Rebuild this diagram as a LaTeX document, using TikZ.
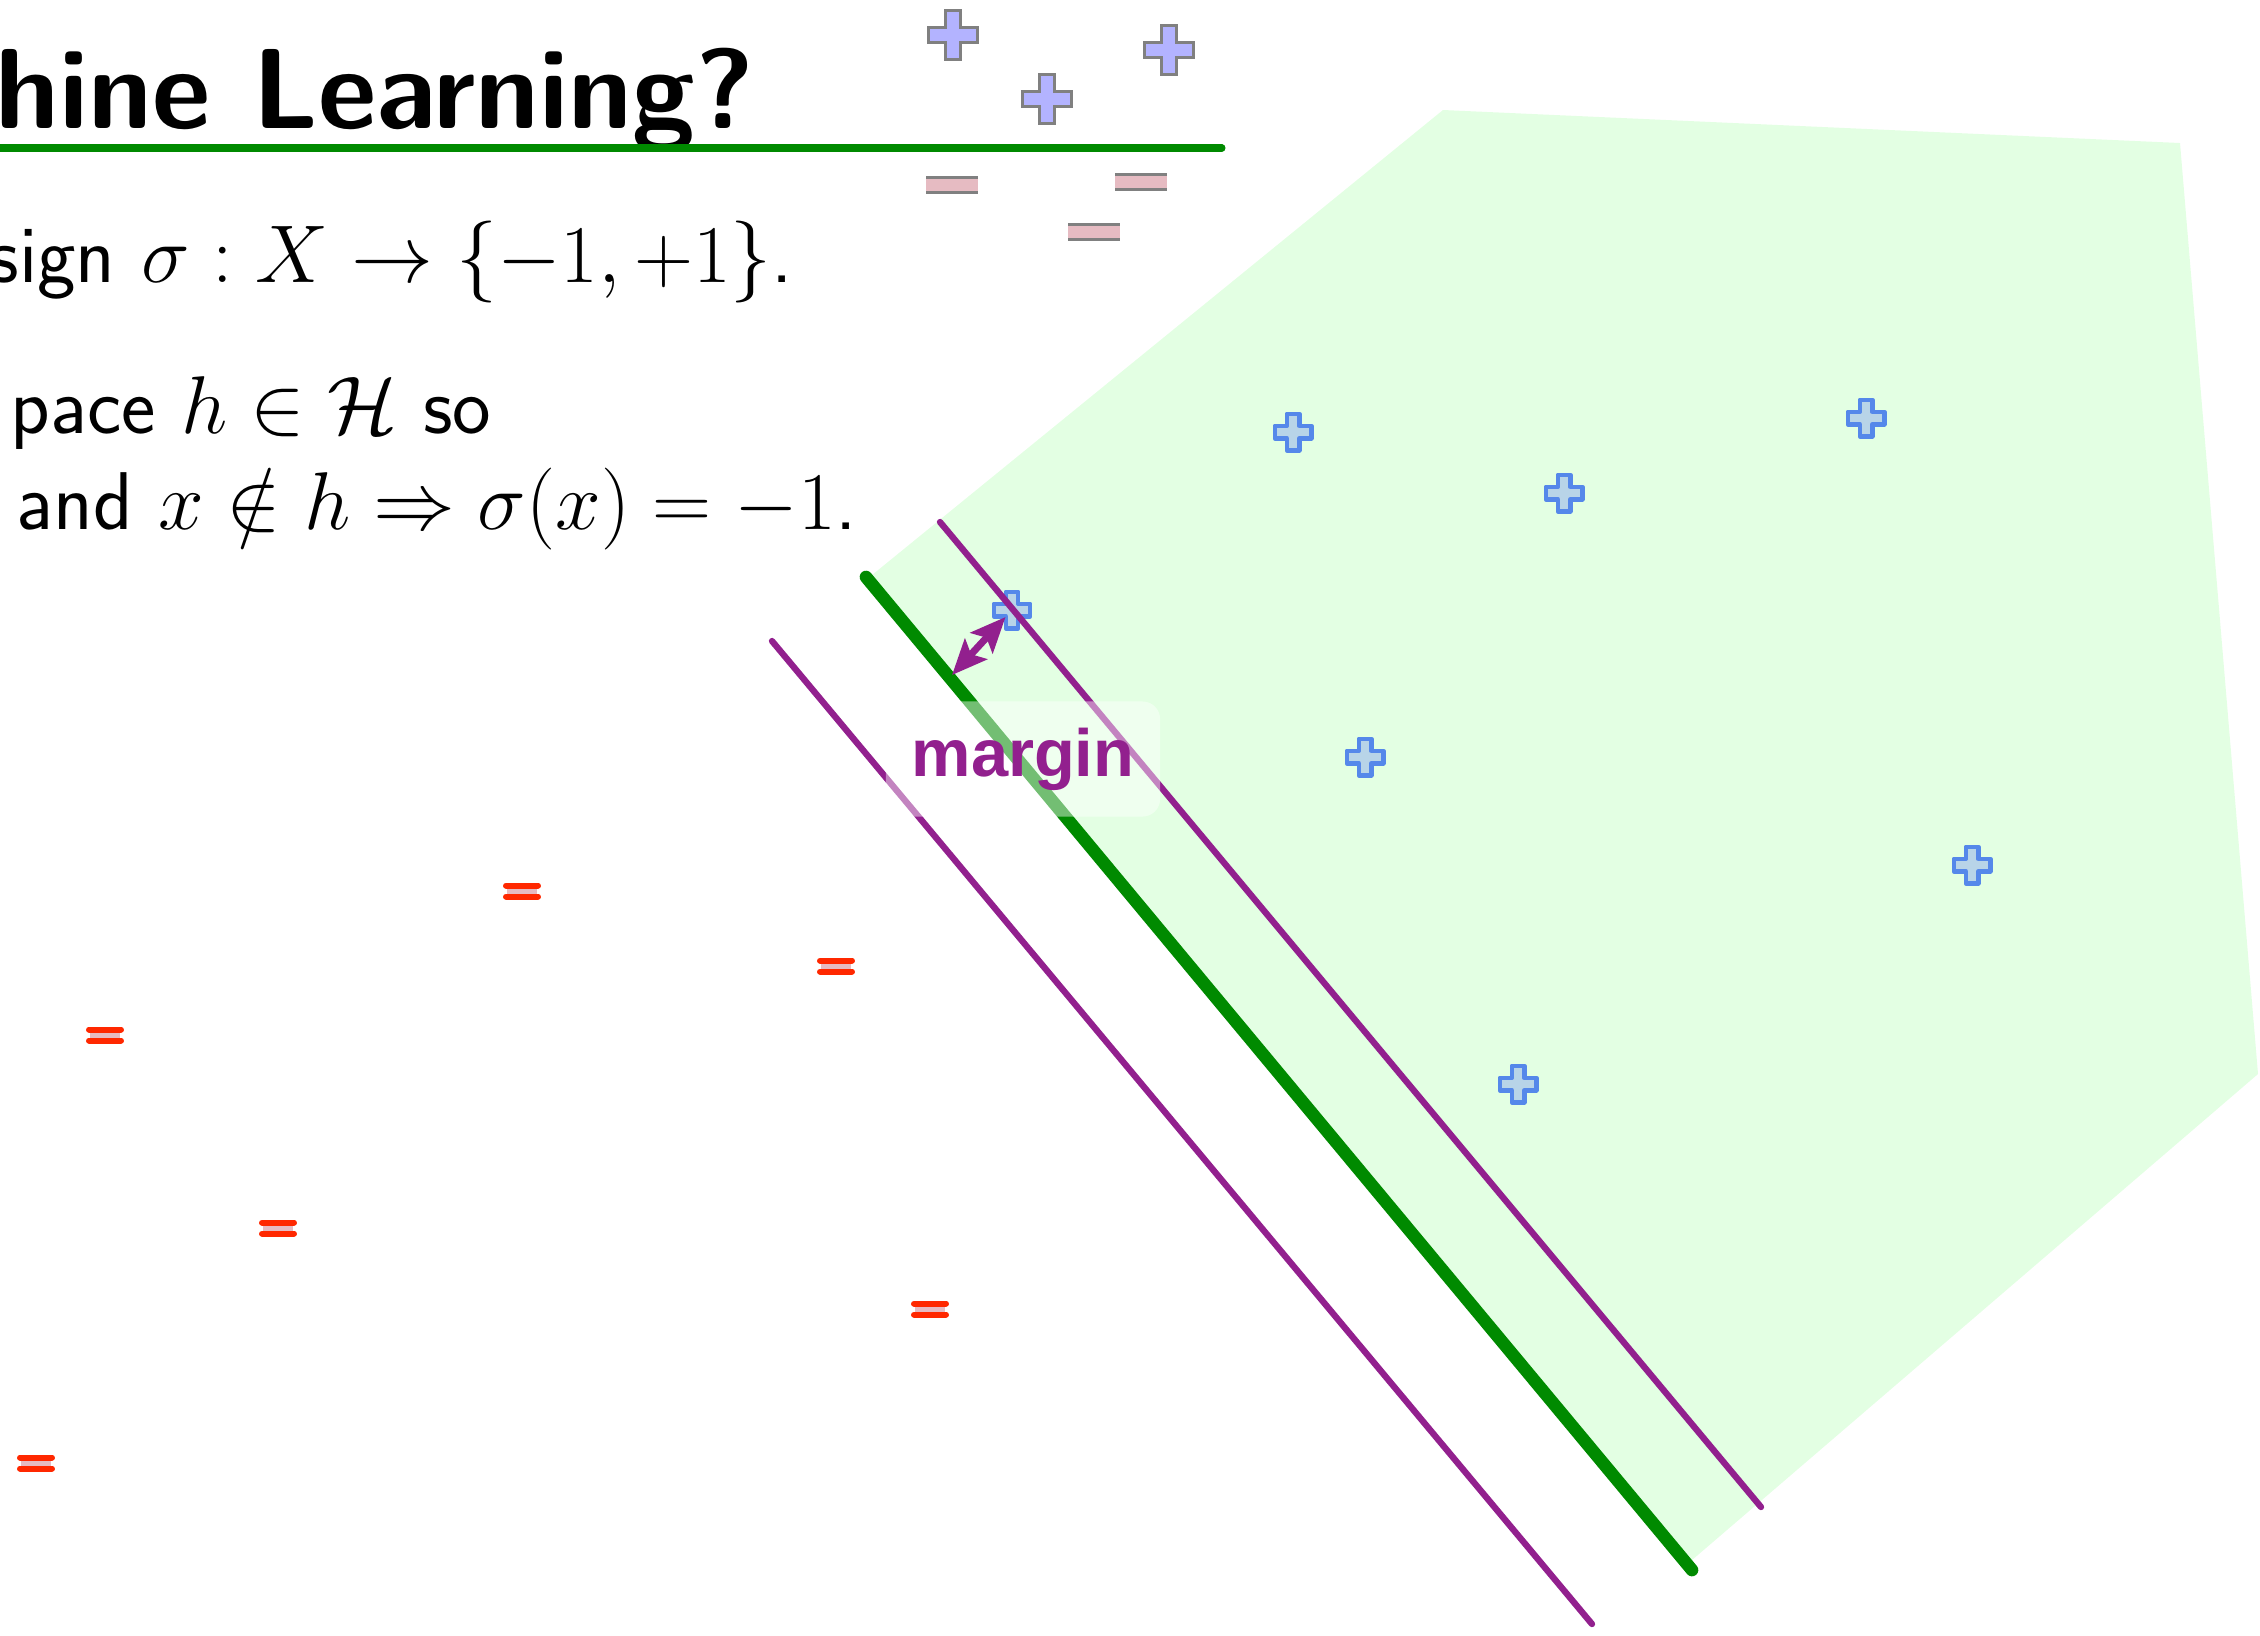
\RequirePackage{fix-cm}
\documentclass[tikz,border=0pt]{standalone}
\usepackage{fontspec}
\newfontfamily\labelfont{Liberation Sans}
\definecolor{hullgreen}{RGB}{227, 255, 227}
\definecolor{sepgreen}{RGB}{0, 138, 0}
\definecolor{margpurple}{RGB}{146, 32, 142}
\definecolor{posblue}{RGB}{85, 136, 234}
\definecolor{posfill}{RGB}{184, 212, 232}
\definecolor{legblue}{RGB}{179, 179, 255}
\definecolor{legpink}{RGB}{230, 187, 194}
\definecolor{leggray}{RGB}{128, 128, 128}
\definecolor{negred}{RGB}{255, 40, 0}
\usetikzlibrary{arrows.meta}

\begin{document}
\begin{tikzpicture}[x=0.01cm, y=-0.01cm,
  body/.style={anchor=base east, inner sep=0pt, font=\sffamily\fontsize{23.3}{28}\selectfont},
  margline/.style={draw=margpurple, line width=1.8pt, line cap=round},
  posmark/.pic={\draw[posblue, fill=posfill, line width=1.3pt, line join=round]
    (-6.2,-18.2) -- (6.2,-18.2) -- (6.2,-6.2) -- (18.2,-6.2) -- (18.2,6.2) -- (6.2,6.2) -- (6.2,18.2)
    -- (-6.2,18.2) -- (-6.2,6.2) -- (-18.2,6.2) -- (-18.2,-6.2) -- (-6.2,-6.2) -- cycle;},
  negmark/.pic={\fill[legpink] (-15,-5.5) rectangle (15,5.5);
    \draw[negred, line width=1.7pt, line cap=round] (-16,-5.5) -- (16,-5.5) (-16,5.5) -- (16,5.5);},
  legplus/.pic={\draw[leggray, fill=legblue, line width=0.77pt]
    (-7.2,-24.6) -- (7.2,-24.6) -- (7.2,-7.2) -- (24.6,-7.2) -- (24.6,7.2) -- (7.2,7.2) -- (7.2,24.6)
    -- (-7.2,24.6) -- (-7.2,7.2) -- (-24.6,7.2) -- (-24.6,-7.2) -- (-7.2,-7.2) -- cycle;},
  legminus/.pic={\fill[legpink] (-26,-7.6) rectangle (26,7.6);
    \draw[leggray, line width=0.77pt] (-26,-7.6) -- (26,-7.6) (-26,7.6) -- (26,7.6);}]
  \useasboundingbox (0,0) rectangle (2260,1635);

  % Positive region
  \fill[hullgreen] (872,575) -- (1443,110) -- (2180,143) -- (2258,1074) -- (1692,1560) -- cycle;

  % Title
  \node[anchor=base east, inner sep=0pt, font=\sffamily\bfseries\fontsize{32.4}{38}\selectfont] (title) at (755,128) {hine Learning?};
  \draw[sepgreen, line width=2pt, line cap=round] (-10,148) -- (1222,148);

  \node[body] (line1) at (794,282) {sign $\sigma : X \to \{-1,+1\}$.};
  \node[body] (line2) at (492,433) {pace $h \in \mathcal{H}$ so};
  \node[body] (line3) at (858,529) {and $x \notin h \Rightarrow \sigma(x) = -1$.};

  % Legend
  \pic at (953,35) {legplus};
  \pic at (1047,99) {legplus};
  \pic at (1169,50) {legplus};
  \pic at (952,185) {legminus};
  \pic at (1141,182) {legminus};
  \pic at (1094,232) {legminus};

  % Positive samples
  \coordinate (sv) at (1012,610);
  \pic at (sv) {posmark};
  \pic at (1293,432) {posmark};
  \pic at (1564,493) {posmark};
  \pic at (1866,418) {posmark};
  \pic at (1365,757) {posmark};
  \pic at (1972,865) {posmark};
  \pic at (1518,1084) {posmark};

  % Negative samples
  \pic at (522,891) {negmark};
  \pic at (836,966) {negmark};
  \pic at (105,1035) {negmark};
  \pic at (278,1228) {negmark};
  \pic at (930,1309) {negmark};
  \pic at (36,1463) {negmark};

  % Separator and margins
  \draw[margline] (940,522) -- (1761,1507);
  \draw[margline] (772,641) -- (1592,1624);
  \draw[sepgreen, line width=3.6pt, line cap=round] (866,577) -- (1692,1570);

  % Margin
  \coordinate (foot) at (952,675);
  \draw[margline, line width=2pt, {Stealth[length=10pt,width=8.5pt,inset=2pt]}-{Stealth[length=10pt,width=8.5pt,inset=2pt]}, shorten >=2.7pt] (foot) -- (sv);
  \node[fill=white, fill opacity=0.45, text opacity=1, rounded corners=5pt, minimum width=2.74cm, minimum height=1.15cm,
    font=\labelfont\bfseries\fontsize{19}{22}\selectfont, text=margpurple] (marglabel) at (1023,759) {margin};
\end{tikzpicture}
\end{document}
